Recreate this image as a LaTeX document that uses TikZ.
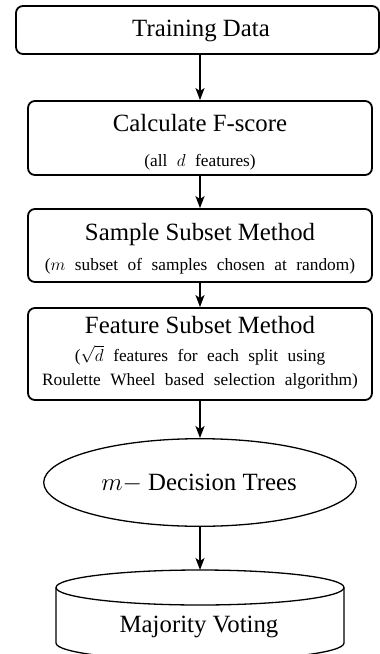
\documentclass[tikz,border=0pt]{standalone}
\usepackage{fontspec}
\setmainfont{Liberation Serif}
\usetikzlibrary{arrows.meta,shapes.geometric}
\newcommand\mysubfont{\fontsize{17.3}{20}\selectfont\spaceskip=0.55em\relax}
\newcommand\mytitlefont{\fontsize{24.8}{30}\selectfont}
\begin{document}
\begin{tikzpicture}[x=1pt,y=-1pt,
  box/.style={draw, line width=1.8pt, rounded corners=7pt, inner sep=0pt},
  oval/.style={draw, ellipse, line width=1.3pt, inner sep=0pt},
  cyl/.style={draw, line width=1.3pt},
  title/.style={anchor=base, inner sep=0pt, font=\mytitlefont},
  sub/.style={anchor=base, inner sep=0pt, font=\mysubfont},
  flow/.style={line width=1.8pt, -{Stealth[length=12pt,width=9pt,inset=3pt]}}]
\useasboundingbox (0,0) rectangle (380,654);
\fill[white] (0,0) rectangle (380,654);

% Training Data
\node[box, minimum width=363, minimum height=48] (td) at (197.5,30) {};
\node[title] (tdt) at (201,36) {Training Data};

% Calculate F-score
\node[box, minimum width=344, minimum height=74] (cf) at (200,138) {};
\node[title] (cft) at (200,131) {Calculate F-score};
\node[sub] (cfs) at (200,166) {(all $d$ features)};

% Sample Subset Method
\node[box, minimum width=344, minimum height=73] (ss) at (200,245.5) {};
\node[title] (sst) at (200,240) {Sample Subset Method};
\node[sub] (sss) at (200,270) {($m$ subset of samples chosen at random)};

% Feature Subset Method
\node[box, minimum width=344, minimum height=92] (fs) at (200,354) {};
\node[title] (fst) at (200,333) {Feature Subset Method};
\node[sub] (fss1) at (200,361) {($\sqrt{d}$ features for each split using};
\node[sub] (fss2) at (200,385) {Roulette Wheel based selection algorithm)};

% Decision trees ellipse
\node[oval, minimum width=312.6, minimum height=87.6] (dt) at (200,482.5) {};
\node[title] (dtt) at (199,490) {$m-$ Decision Trees};

% Majority voting cylinder
\coordinate (mvtop) at (200,570);
\draw[cyl] (200,587.5) ellipse [x radius=144, y radius=17.5];
\draw[cyl] (56,587.5) -- (56,643) arc[start angle=180, end angle=0, x radius=144, y radius=17.5] -- (344,587.5);
\node[title] (mv) at (199,632) {Majority Voting};

% connectors
\draw[flow] (td.south -| cf.north) -- (cf.north);
\draw[flow] (cf.south) -- (ss.north);
\draw[flow] (ss.south) -- (fs.north);
\draw[flow] (fs.south) -- (dt.north);
\draw[flow] (dt.south) -- (mvtop);
\end{tikzpicture}
\end{document}
